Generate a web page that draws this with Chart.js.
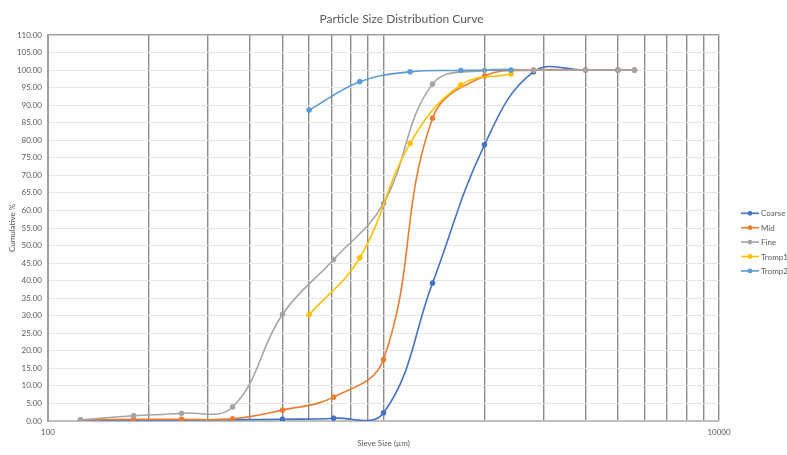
<!DOCTYPE html>
<html>
<head>
<meta charset="utf-8">
<script src="https://cdn.jsdelivr.net/npm/chart.js@4/dist/chart.umd.min.js"></script>
<style>
  html, body { margin: 0; padding: 0; background: #fff; }
  #wrap { width: 787px; height: 455px; }
</style>
</head>
<body>
<div id="wrap"><canvas id="chart" width="787" height="455"></canvas></div>
<script>
const sieveSizes = [125, 180, 250, 355, 500, 710, 1000, 1400, 2000, 2800, 4000, 5000, 5600];
const coarse = [0.3, 0.3, 0.3, 0.4, 0.5, 0.8, 2.3, 39.3, 78.7, 99.5, 100, 100, 100];
const mid = [0.3, 0.5, 0.5, 0.6, 3.1, 6.8, 17.5, 86.3, 98.3, 100, 100, 100, 100];
const fine = [0.3, 1.5, 2.2, 4.0, 30.4, 46.0, 62.0, 96.0, 99.9, 100, 100, 100, 100];
const trompSizes = [600, 850, 1200, 1700, 2400];
const tromp1 = [30.3, 46.5, 79.1, 95.8, 98.9];
const tromp2 = [88.6, 96.7, 99.5, 99.9, 100];
const xGridValues = [100, 200, 300, 400, 500, 600, 700, 800, 900,
  1000, 2000, 3000, 4000, 5000, 6000, 7000, 8000, 9000, 10000];
const xLabels = [100, 10000];

const FONT = "Lato, 'Open Sans', sans-serif";
const TEXT = "#595959";

function pairs(xs, ys) {
  return xs.map((x, i) => ({ x: x, y: ys[i] }));
}

function series(label, xs, ys, color, order) {
  return {
    label: label,
    data: pairs(xs, ys),
    borderColor: color,
    backgroundColor: color,
    borderWidth: 1.6,
    pointRadius: 2.4,
    pointBorderWidth: 1,
    tension: 0.4,
    capBezierPoints: false,
    order: order
  };
}

// legend drawn by hand: line + dot marker like the spreadsheet one
const sideLegend = {
  id: "sideLegend",
  afterDraw(chart) {
    const ctx = chart.ctx;
    ctx.save();
    ctx.font = "8px " + FONT;
    ctx.textBaseline = "middle";
    chart.data.datasets.forEach((ds, i) => {
      const y = 213.3 + i * 14.4;
      ctx.strokeStyle = ds.borderColor;
      ctx.lineWidth = 1.6;
      ctx.beginPath();
      ctx.moveTo(741, y);
      ctx.lineTo(759, y);
      ctx.stroke();
      ctx.fillStyle = ds.borderColor;
      ctx.beginPath();
      ctx.arc(750, y, 2.4, 0, Math.PI * 2);
      ctx.fill();
      ctx.fillStyle = TEXT;
      ctx.fillText(ds.label, 761, y + 0.5);
    });
    ctx.restore();
  }
};

new Chart(document.getElementById("chart"), {
  type: "line",
  data: {
    datasets: [
      series("Coarse", sieveSizes, coarse, "#4472C4", 5),
      series("Mid", sieveSizes, mid, "#ED7D31", 4),
      series("Fine", sieveSizes, fine, "#A5A5A5", 3),
      series("Tromp1", trompSizes, tromp1, "#FFC000", 2),
      series("Tromp2", trompSizes, tromp2, "#5B9BD5", 1)
    ]
  },
  options: {
    responsive: false,
    animation: false,
    layout: { padding: { left: 16, right: 0, top: 0, bottom: 0 } },
    plugins: {
      legend: { display: false },
      tooltip: { enabled: false },
      title: {
        display: true,
        text: "Particle Size Distribution Curve",
        color: TEXT,
        font: { family: FONT, size: 12, weight: "normal" },
        padding: { top: 12, bottom: 8.6 }
      }
    },
    scales: {
      x: {
        type: "logarithmic",
        min: 100,
        max: 10000,
        afterBuildTicks: (scale) => {
          scale.ticks = xGridValues.map(v => ({ value: v }));
        },
        afterFit: (scale) => { scale.height = 34; },
        ticks: {
          autoSkip: false,
          maxRotation: 0,
          padding: 7,
          color: TEXT,
          font: { family: FONT, size: 8 },
          callback: (v) => xLabels.includes(v) ? String(v) : ""
        },
        grid: {
          drawTicks: false,
          color: "#8c8c8c",
          lineWidth: 1.4
        },
        border: { color: "#bfbfbf", width: 2 },
        title: {
          display: true,
          text: "Sieve Size (µm)",
          color: TEXT,
          font: { family: FONT, size: 8 },
          padding: { top: 0, bottom: 7.2 }
        }
      },
      y: {
        min: 0,
        max: 110,
        afterFit: (scale) => { scale.width = 32; },
        ticks: {
          stepSize: 5,
          padding: 6,
          color: TEXT,
          font: { family: FONT, size: 8 },
          callback: (v) => v.toFixed(2)
        },
        grid: {
          drawTicks: false,
          color: (c) => c.tick && c.tick.value === 110 ? "#a0a0a0" : "#e6e6e6",
          lineWidth: (c) => c.tick && c.tick.value === 110 ? 1.6 : 1
        },
        border: { color: "#a0a0a0", width: 2 },
        title: {
          display: true,
          text: "Cumulative %",
          color: TEXT,
          font: { family: FONT, size: 8 },
          padding: { top: -8.8, bottom: 0 }
        }
      },
      // empty right-hand scale that only keeps room for the legend
      side: {
        position: "right",
        min: 0,
        max: 110,
        afterFit: (scale) => { scale.width = 68; },
        ticks: { display: false },
        grid: { display: false, drawTicks: false },
        border: { display: false }
      }
    }
  },
  plugins: [sideLegend]
});
</script>
</body>
</html>
